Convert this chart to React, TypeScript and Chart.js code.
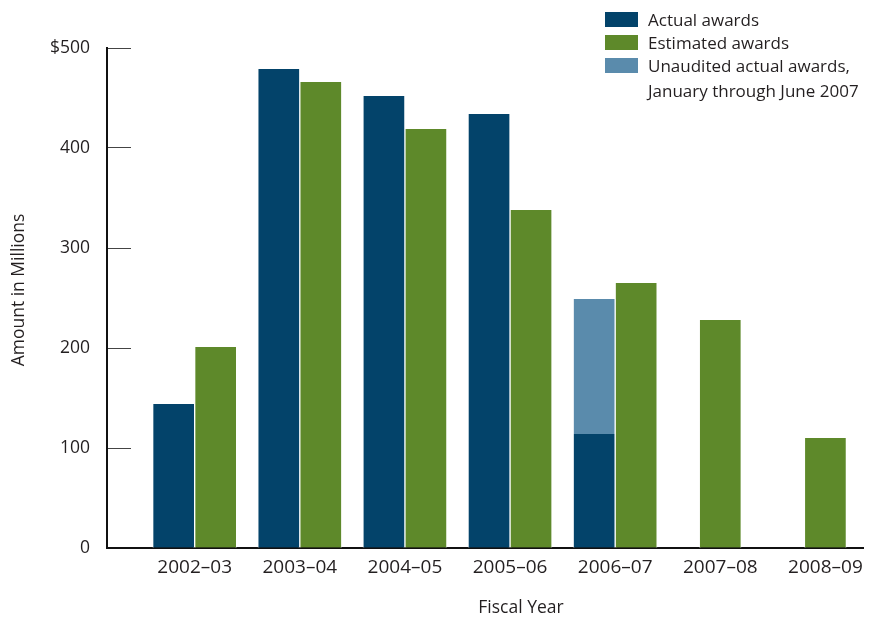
import React, { useEffect, useRef } from "react";
import { Chart, registerables } from "chart.js";

Chart.register(...registerables);

// Fiscal years on the horizontal axis
const fiscalYears = ["2002–03", "2003–04", "2004–05", "2005–06", "2006–07", "2007–08", "2008–09"];

// Amounts in millions of dollars
const actualAwards = [144, 479, 452, 434, 114, null, null];
// Unaudited portion stacked on top of the audited 2006–07 actuals (total 249)
const unauditedAwards = [null, null, null, null, 135, null, null];
const estimatedAwards = [201, 466, 419, 338, 265, 228, 110];

// Vertical axis tick labels, 0 to 500 by 100
const yTickValues = [0, 100, 200, 300, 400, 500];
const yTickLabels = ["0", "100", "200", "300", "400", "$500"];

const legendLabels = [
  ["Actual awards"],
  ["Estimated awards"],
  ["Unaudited actual awards,", "January through June 2007"],
];

const COLOR_ACTUAL = "#03436A";
const COLOR_ESTIMATED = "#5E892A";
const COLOR_UNAUDITED = "#5A8BAC";
const TEXT = "#231f20";
const FONT = "'Open Sans', sans-serif";

const toPoints = (values: (number | null)[]) =>
  values.map((v, i) => ({ x: i, y: v }));

// Legend and axis titles drawn over the chart
const annotations = {
  id: "annotations",
  afterDraw(chart: any) {
    const { ctx } = chart;
    ctx.save();
    ctx.fillStyle = TEXT;
    ctx.font = `17.5px ${FONT}`;

    // y-axis title
    ctx.save();
    ctx.translate(19, 290);
    ctx.rotate(-Math.PI / 2);
    ctx.textAlign = "center";
    ctx.textBaseline = "middle";
    ctx.fillText("Amount in Millions", 0, 0);
    ctx.restore();

    // x-axis title
    ctx.textAlign = "center";
    ctx.textBaseline = "alphabetic";
    ctx.fillText("Fiscal Year", 521, 613);

    // legend
    const swatches = [COLOR_ACTUAL, COLOR_ESTIMATED, COLOR_UNAUDITED];
    const boxX = 605;
    let top = 12;
    ctx.textAlign = "left";
    ctx.font = `17px ${FONT}`;
    legendLabels.forEach((lines, i) => {
      ctx.fillStyle = swatches[i];
      ctx.fillRect(boxX, top, 33, 15);
      ctx.fillStyle = TEXT;
      lines.forEach((line, j) => {
        ctx.fillText(line, 648, top + 14 + j * 25);
      });
      top += 23;
    });
    ctx.restore();
  },
};

export default function App() {
  const canvasRef = useRef<HTMLCanvasElement | null>(null);

  useEffect(() => {
    if (!canvasRef.current) return;
    Chart.defaults.font.family = FONT;
    Chart.defaults.color = TEXT;

    const chart = new Chart(canvasRef.current, {
      type: "bar",
      data: {
        datasets: [
          {
            label: "Actual awards",
            data: toPoints(actualAwards),
            backgroundColor: COLOR_ACTUAL,
            stack: "actual",
          },
          {
            label: "Unaudited actual awards, January through June 2007",
            data: toPoints(unauditedAwards),
            backgroundColor: COLOR_UNAUDITED,
            stack: "actual",
          },
          {
            label: "Estimated awards",
            data: toPoints(estimatedAwards),
            backgroundColor: COLOR_ESTIMATED,
            stack: "estimated",
          },
        ] as any,
      },
      options: {
        animation: false,
        responsive: false,
        maintainAspectRatio: false,
        layout: { padding: { top: 48, right: 5, left: 0, bottom: 0 } },
        datasets: {
          bar: {
            skipNull: true,
            barThickness: 42,
            borderWidth: { left: 1, right: 1, top: 0, bottom: 0 },
            borderColor: "#ffffff",
            borderSkipped: "start",
          } as any,
        },
        plugins: {
          legend: { display: false },
          tooltip: { enabled: false },
          title: { display: false },
        },
        scales: {
          x: {
            type: "linear",
            min: -0.834,
            max: 6.36,
            offset: false,
            afterFit: (scale: any) => {
              scale.height = 72;
            },
            grid: { display: true, drawOnChartArea: false, drawTicks: false },
            border: { display: true, color: "#111111", width: 2 },
            ticks: {
              stepSize: 1,
              includeBounds: false,
              autoSkip: false,
              maxRotation: 0,
              padding: 8,
              font: { size: 19 },
              color: TEXT,
              callback: (value: any) =>
                Number.isInteger(value) && fiscalYears[value] !== undefined
                  ? fiscalYears[value]
                  : "",
            },
          },
          y: {
            stacked: true,
            min: 0,
            max: 500,
            afterFit: (scale: any) => {
              scale.width = 107;
              // label gap is horizontal only; keep it out of the vertical layout
              scale.paddingTop = 0;
              scale.paddingBottom = 0;
            },
            afterBuildTicks: (scale: any) => {
              scale.ticks = yTickValues.map((v) => ({ value: v }));
            },
            grid: {
              drawOnChartArea: false,
              drawTicks: true,
              tickLength: -24,
              color: "#444444",
              lineWidth: 1,
            },
            border: { display: true, color: "#111111", width: 2 },
            ticks: {
              padding: 41,
              font: { size: 17.5 },
              color: TEXT,
              callback: (value: any) => {
                const idx = yTickValues.indexOf(Number(value));
                return idx >= 0 ? yTickLabels[idx] : "";
              },
            },
          },
        },
      },
      plugins: [annotations],
    });

    return () => chart.destroy();
  }, []);

  return (
    <div style={{ position: "absolute", left: 0, top: 0, width: 871, height: 620, background: "#ffffff" }}>
      <canvas ref={canvasRef} width={871} height={620} style={{ display: "block" }} />
    </div>
  );
}
